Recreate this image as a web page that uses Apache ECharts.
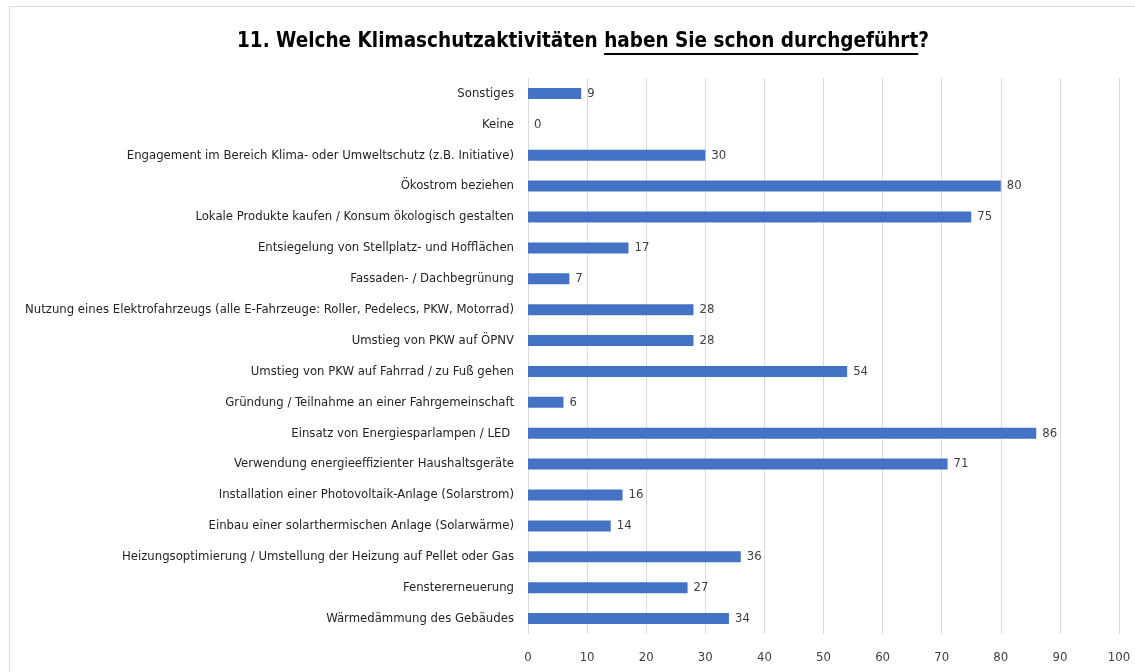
<!DOCTYPE html>
<html>
<head>
<meta charset="utf-8">
<script src="https://cdn.jsdelivr.net/npm/echarts@6/dist/echarts.min.js"></script>
<style>
  html, body { margin: 0; padding: 0; background: #fff; }
  #chart { width: 1135px; height: 672px; }
</style>
</head>
<body>
<div id="chart"></div>
<script>
  // Kategorien von unten nach oben (wie im Balkendiagramm)
  const categories = [
    'Wärmedämmung des Gebäudes',
    'Fenstererneuerung',
    'Heizungsoptimierung / Umstellung der Heizung auf Pellet oder Gas',
    'Einbau einer solarthermischen Anlage (Solarwärme)',
    'Installation einer Photovoltaik-Anlage (Solarstrom)',
    'Verwendung energieeffizienter Haushaltsgeräte',
    'Einsatz von Energiesparlampen / LED ',
    'Gründung / Teilnahme an einer Fahrgemeinschaft',
    'Umstieg von PKW auf Fahrrad / zu Fuß gehen',
    'Umstieg von PKW auf ÖPNV',
    'Nutzung eines Elektrofahrzeugs (alle E-Fahrzeuge: Roller, Pedelecs, PKW, Motorrad)',
    'Fassaden- / Dachbegrünung',
    'Entsiegelung von Stellplatz- und Hofflächen',
    'Lokale Produkte kaufen / Konsum ökologisch gestalten',
    'Ökostrom beziehen',
    'Engagement im Bereich Klima- oder Umweltschutz (z.B. Initiative)',
    'Keine',
    'Sonstiges'
  ];
  const counts = [34, 27, 36, 14, 16, 71, 86, 6, 54, 28, 28, 7, 17, 75, 80, 30, 0, 9];

  const titlePartA = '11. Welche Klimaschutzaktivitäten ';
  const titlePartB = 'haben Sie schon durchgeführt';
  const titlePartC = '?';

  const FONT = '"DejaVu Sans Condensed", "Liberation Sans Narrow", sans-serif';
  const titleSize = 20.5;
  const titleCenter = 583;
  const titleTop = 28;

  // Breite der Titelteile messen (fuer Zentrierung und Unterstreichung)
  const ctx = document.createElement('canvas').getContext('2d');
  ctx.font = 'bold ' + titleSize + 'px ' + FONT;
  const wA = ctx.measureText(titlePartA).width;
  const wB = ctx.measureText(titlePartB).width;
  const wC = ctx.measureText(titlePartC).width;
  const titleLeft = Math.round(titleCenter - (wA + wB + wC) / 2);

  const chart = echarts.init(document.getElementById('chart'));

  const option = {
    backgroundColor: '#fff',
    title: {
      left: titleLeft,
      top: titleTop,
      padding: 0,
      text: '{a|' + titlePartA + titlePartB + titlePartC + '}',
      textStyle: {
        rich: {
          a: {
            fontFamily: FONT,
            fontSize: titleSize,
            fontWeight: 'bold',
            color: '#000',
            lineHeight: 28
          }
        }
      }
    },
    graphic: [
      {
        type: 'rect',
        silent: true,
        shape: { x: 9.5, y: 6.5, width: 1140, height: 700 },
        style: { fill: 'none', stroke: '#d9d9d9', lineWidth: 1 }
      },
      {
        type: 'line',
        silent: true,
        shape: { x1: titleLeft + wA, y1: 54, x2: titleLeft + wA + wB, y2: 54 },
        style: { stroke: '#000', lineWidth: 2 }
      }
    ],
    grid: {
      left: 528,
      right: 16,
      top: 78,
      bottom: 38
    },
    xAxis: {
      type: 'value',
      min: 0,
      max: 100,
      interval: 10,
      axisLine: { show: false },
      axisTick: { show: false },
      splitLine: {
        show: true,
        lineStyle: { color: '#d9d9d9', width: 1 }
      },
      axisLabel: {
        margin: 17,
        fontFamily: FONT,
        fontSize: 13,
        color: '#404040'
      }
    },
    yAxis: {
      type: 'category',
      data: categories,
      axisLine: { show: false },
      axisTick: { show: false },
      axisLabel: {
        margin: 14,
        fontFamily: FONT,
        fontSize: 13,
        color: '#1f1f1f'
      }
    },
    series: [{
      type: 'bar',
      data: counts,
      barWidth: 11,
      itemStyle: { color: '#4472c4' },
      label: {
        show: true,
        position: 'right',
        distance: 6,
        fontFamily: FONT,
        fontSize: 13,
        color: '#404040'
      },
      animation: false
    }]
  };

  chart.setOption(option);
</script>
</body>
</html>
